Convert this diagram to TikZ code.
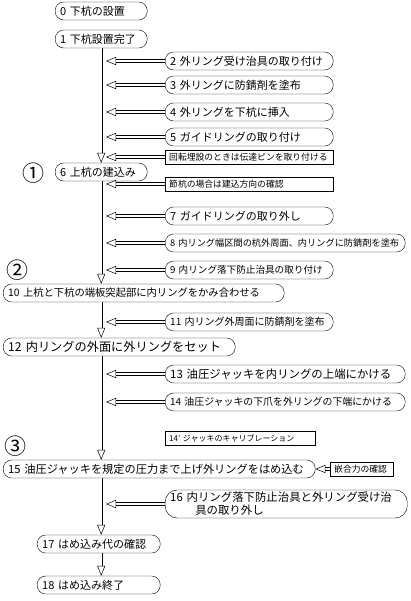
\documentclass[tikz,border=0pt]{standalone}
\usepackage{fontspec}
\setmainfont{Noto Sans CJK JP}
\usetikzlibrary{arrows.meta}

\tikzset{
  stepbox/.style={draw, rounded corners=8.5pt, anchor=west, align=left,
    minimum height=18pt, inner xsep=5pt, inner ysep=0pt,
    font=\fontsize{11}{13}\selectfont, text width=#1},
  notebox/.style={draw, anchor=west, align=left, minimum height=14pt,
    inner xsep=4pt, inner ysep=0pt, font=\fontsize{8.8}{10}\selectfont, text width=#1},
  flow/.style={double, double distance=2.2pt, line width=0.5pt,
    -{Triangle[open, length=10pt, width=8pt]}},
  phase/.style={font=\fontsize{22}{22}\selectfont}
}

\begin{document}
\begin{tikzpicture}[x=1pt, y=-1pt]
    \useasboundingbox (0,0) rectangle (410,601);
    \coordinate (trunk) at (106,0);
    % main steps
    \node[stepbox=82] (n0) at (55,11) {0 下杭の設置};
    \node[stepbox=82] (n1) at (55,39) {1 下杭設置完了};
    \node[stepbox=158] (n2) at (165,61) {2 外リング受け治具の取り付け};
    \node[stepbox=158] (n3) at (165,85) {3 外リングに防錆剤を塗布};
    \node[stepbox=158] (n4) at (165,112) {4 外リングを下杭に挿入};
    \node[stepbox=158] (n5) at (165,137) {5 ガイドリングの取り付け};
    \node[notebox=160] (nA) at (165,157) {回転埋設のときは伝達ピンを取り付ける};
    \node[stepbox=82] (n6) at (55,172) {6 上杭の建込み};
    \node[notebox=160] (nB) at (165,184) {節杭の場合は建込方向の確認};
    \node[stepbox=158] (n7) at (165,216) {7 ガイドリングの取り外し};
    \node[stepbox=230, font=\fontsize{9.2}{11}\selectfont] (n8) at (165,243) {8 内リング幅区間の杭外周面、内リングに防錆剤を塗布};
    \node[stepbox=158, font=\fontsize{9.6}{12}\selectfont] (n9) at (165,270) {9 内リング落下防止治具の取り付け};
    \node[stepbox=271, font=\fontsize{10.3}{12}\selectfont] (n10) at (3,293) {10 上杭と下杭の端板突起部に内リングをかみ合わせる};
    \node[stepbox=158, font=\fontsize{10}{12}\selectfont] (n11) at (165,322) {11 内リング外周面に防錆剤を塗布};
    \node[stepbox=222, font=\fontsize{12.2}{14}\selectfont] (n12) at (3,347) {12 内リングの外面に外リングをセット};
    \node[stepbox=230, font=\fontsize{11.4}{13}\selectfont] (n13) at (165,374) {13 油圧ジャッキを内リングの上端にかける};
    \node[stepbox=230, font=\fontsize{9.9}{12}\selectfont] (n14) at (165,402) {14 油圧ジャッキの下爪を外リングの下端にかける};
    \node[notebox=142, font=\fontsize{8}{10}\selectfont] (n14b) at (165,438) {14' ジャッキのキャリブレーション};
    \node[stepbox=302, font=\fontsize{11.2}{13}\selectfont] (n15) at (3,469) {15 油圧ジャッキを規定の圧力まで上げ外リングをはめ込む};
    \node[notebox=55] (nC) at (330,469) {嵌合力の確認};
    \node[stepbox=232, rounded corners=12pt, minimum height=28pt, font=\fontsize{11.4}{13}\selectfont] (n16) at (165,504) {16 内リング落下防止治具と外リング受け治\\\hspace*{2.2em}具の取り外し};
    \node[stepbox=113] (n17) at (37,544) {17 はめ込み代の確認};
    \node[stepbox=113] (n18) at (37,585) {18 はめ込み終了};
    % phases
    \node[phase] (p1) at (33,173) {①};
    \node[phase] (p2) at (17,270) {②};
    \node[phase] (p3) at (16,446) {③};
    % trunk
    \draw[flow] (n1.south) -- (n6.north);
    \draw[flow] (n6.south) -- (n6.south |- n10.north);
    \draw[flow] (n6.south |- n10.south) -- (n6.south |- n12.north);
    \draw[flow] (n6.south |- n12.south) -- (n6.south |- n15.north);
    \draw[flow] (n6.south |- n15.south) -- (n6.south |- n17.north);
    \draw[flow] (n6.south |- n17.south) -- (n6.south |- n18.north);
    % side steps
    \draw[flow] (n2.west) -- (n2.west -| trunk);
    \draw[flow] (n3.west) -- (n3.west -| trunk);
    \draw[flow] (n4.west) -- (n4.west -| trunk);
    \draw[flow] (n5.west) -- (n5.west -| trunk);
    \draw[flow] (nA.west) -- (nA.west -| trunk);
    \draw[flow] (nB.west) -- (nB.west -| trunk);
    \draw[flow] (n7.west) -- (n7.west -| trunk);
    \draw[flow] (n8.west) -- (n8.west -| trunk);
    \draw[flow] (n9.west) -- (n9.west -| trunk);
    \draw[flow] (n11.west) -- (n11.west -| trunk);
    \draw[flow] (n13.west) -- (n13.west -| trunk);
    \draw[flow] (n14.west) -- (n14.west -| trunk);
    \draw[flow] (n16.west) -- (n16.west -| trunk);
    \draw[flow] (nC.west) -- (n15.east);
\end{tikzpicture}
\end{document}
